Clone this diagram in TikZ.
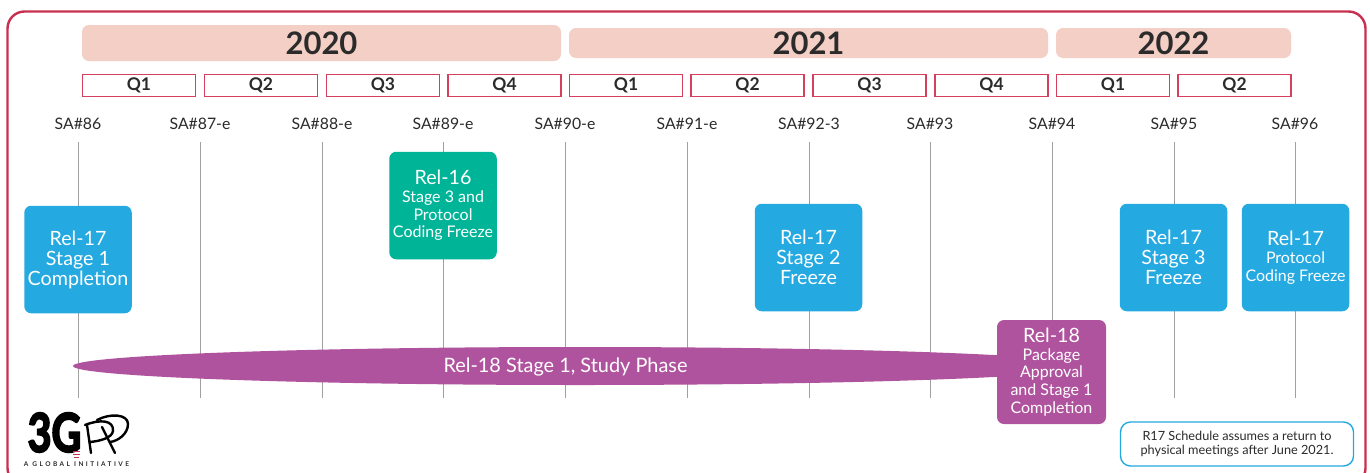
\documentclass[tikz,border=0pt]{standalone}
\usepackage{fontspec}
\setmainfont{Lato}
\newfontfamily\logofont[FakeBold=4]{Lato}
\newfontfamily\tagfont[LetterSpace=38]{Lato}
\definecolor{framered}{HTML}{C9304F}
\definecolor{qred}{HTML}{D6405F}
\definecolor{yearbar}{HTML}{F3CFC5}
\definecolor{relblue}{HTML}{25A9E1}
\definecolor{relgreen}{HTML}{00B498}
\definecolor{relpurple}{HTML}{B0539E}
\definecolor{ink}{HTML}{2B2B2B}
\definecolor{linegray}{HTML}{A0A0A0}
\newcommand{\fs}[2]{\fontsize{#1}{#2}\selectfont}
\newcommand{\hd}[1]{{\fs{19.7}{20}#1}}
\tikzset{
  x=1pt,y=-1pt,
  yearbox/.style={fill=yearbar,rounded corners=7pt,inner sep=0pt,text=ink,font=\fs{31}{34}\bfseries,anchor=center},
  quarter/.style={draw=qred,line width=1.3pt,fill=white,minimum width=113pt,minimum height=22.5pt,inner sep=0pt,text=ink,font=\fs{17.5}{18}\bfseries},
  meeting/.style={text=ink,font=\fs{15.8}{16},inner sep=0pt},
  tick/.style={draw=linegray,line width=1.1pt},
  relbox/.style={rounded corners=7pt,minimum width=107.5pt,minimum height=107.5pt,inner sep=0pt,text=white,align=center},
}
\begin{document}
\begin{tikzpicture}
\useasboundingbox (0,0) rectangle (1370,472);
\clip (0,0) rectangle (1370,472);
\fill[white] (0,0) rectangle (1370,472);
\draw[framered,line width=2.4pt,rounded corners=17pt] (7.5,11.5) rectangle (1365.5,485);

% year bars
\node[yearbox,minimum width=479pt,minimum height=36pt] (y2020) at (321.5,43) {2020};
\node[yearbox,minimum width=479pt,minimum height=30pt] (y2021) at (808.5,43) {2021};
\node[yearbox,minimum width=235pt,minimum height=30pt] (y2022) at (1173.5,43) {2022};

% quarters
\node[quarter] (q1) at (139,85.5) {Q1};
\node[quarter] (q2) at (261,85.5) {Q2};
\node[quarter] (q3) at (383,85.5) {Q3};
\node[quarter] (q4) at (504.5,85.5) {Q4};
\node[quarter] (q5) at (626,85.5) {Q1};
\node[quarter] (q6) at (747.5,85.5) {Q2};
\node[quarter] (q7) at (869.5,85.5) {Q3};
\node[quarter] (q8) at (991.5,85.5) {Q4};
\node[quarter] (q9) at (1113,85.5) {Q1};
\node[quarter] (q10) at (1234.5,85.5) {Q2};

% meetings
\node[meeting] (sa86) at (78,124) {SA\#86};
\node[meeting] (sa87) at (200,124) {SA\#87-e};
\node[meeting] (sa88) at (322,124) {SA\#88-e};
\node[meeting] (sa89) at (443,124) {SA\#89-e};
\node[meeting] (sa90) at (565,124) {SA\#90-e};
\node[meeting] (sa91) at (687,124) {SA\#91-e};
\node[meeting] (sa92) at (809,124) {SA\#92-3};
\node[meeting] (sa93) at (930,124) {SA\#93};
\node[meeting] (sa94) at (1052,124) {SA\#94};
\node[meeting] (sa95) at (1174,124) {SA\#95};
\node[meeting] (sa96) at (1295,124) {SA\#96};

% tick ends
\foreach \n/\px in {86/78.5,87/200.3,88/322.2,89/443.7,90/565.5,91/687.3,92/809.2,93/930.8,94/1052.5,95/1174.3,96/1295.3}{
  \coordinate (t\n) at (\px,142);
  \coordinate (b\n) at (\px,398);
  \draw[tick] (t\n) -- (b\n);
}

% study phase
\fill[relpurple] (580,366) ellipse [x radius=507,y radius=19];
\node[text=white,font=\fs{19.9}{20},inner sep=0pt] (study) at (565.5,366.5) {Rel-18 Stage 1, Study Phase};

% release boxes
\node[relbox,fill=relblue,font=\fs{19.7}{20}] (r1) at (78,259.5) {Rel-17\\Stage 1\\Completion};
\node[relbox,fill=relgreen,font=\fs{16}{17.7}] (r2) at (443,205.5) {\hd{Rel-16}\\Stage 3 and\\Protocol\\Coding Freeze};
\node[relbox,fill=relblue,font=\fs{19.7}{20}] (r3) at (808.5,257.5) {Rel-17\\Stage 2\\Freeze};
\node[relbox,fill=relblue,font=\fs{19.7}{20}] (r4) at (1173.5,257.5) {Rel-17\\Stage 3\\Freeze};
\node[relbox,fill=relblue,font=\fs{16}{17.7}] (r5) at (1295.5,257.5) {\hd{Rel-17}\\Protocol\\Coding Freeze};
\node[relbox,fill=relpurple,minimum width=109pt,minimum height=104pt,font=\fs{16}{17.7}] (r6) at (1051.5,372) {\hd{Rel-18}\\Package\\Approval\\and Stage 1\\Completion};

% note
\node[draw=relblue,line width=1.4pt,rounded corners=10pt,fill=white,minimum width=233pt,minimum height=44pt,inner sep=0pt,align=center,text=ink,font=\fs{12.7}{14}] (note) at (1237,444) {R17 Schedule assumes a return to\\physical meetings after June 2021.};

% logo
\node[inner sep=0pt,text=black,font=\logofont\bfseries\fs{41}{44}] (logo3g) at (54.5,432.5) {\scalebox{1}[1.3]{3G}};
\draw[black,line width=2.4pt,line cap=round,line join=round]
  (87,425) -- (91,453)
  (85,425) .. controls (100,419) and (114,420) .. (113,431) .. controls (112,438) and (100,441) .. (90,442);
\draw[black,line width=2.4pt,line cap=round,line join=round]
  (102,427) -- (115,453)
  (97,420) .. controls (110,413) and (128,414) .. (128,424) .. controls (128,434) and (118,441) .. (110,442);
\draw[framered,line width=0.9pt] (73,451) -- (80,451) (73,454) -- (80,454) (74,457) -- (79,457);
\node[inner sep=0pt,text=ink,font=\tagfont\bfseries\fs{6.5}{7}] (logotag) at (76.5,464.5) {A GLOBAL INITIATIVE};
\end{tikzpicture}
\end{document}
